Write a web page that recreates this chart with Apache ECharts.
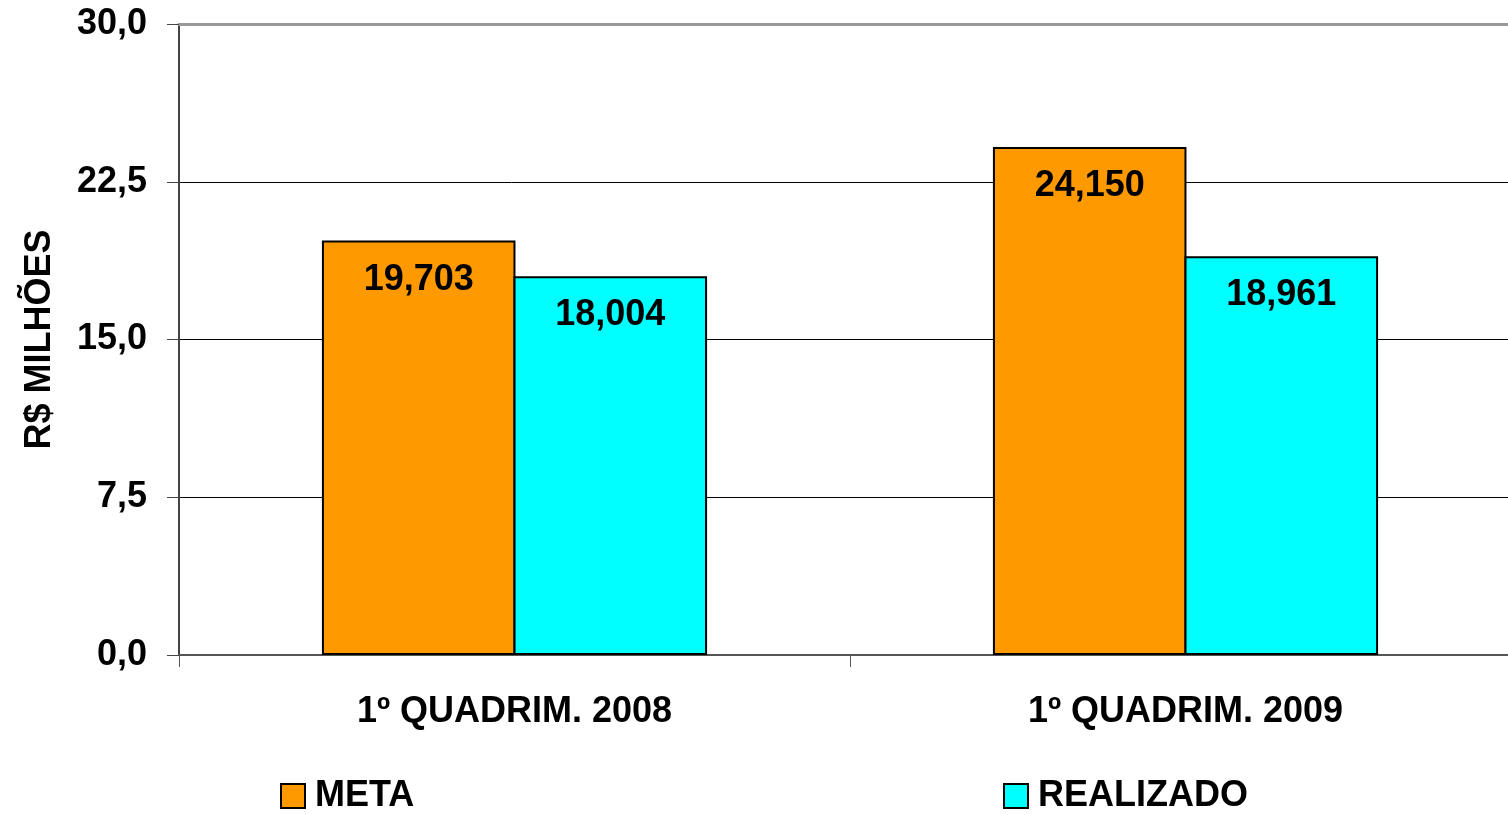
<!DOCTYPE html>
<html>
<head>
<meta charset="utf-8">
<script src="https://cdn.jsdelivr.net/npm/echarts@6/dist/echarts.min.js"></script>
<style>
  html, body { margin: 0; padding: 0; background: #fff; }
  #chart { width: 1508px; height: 815px; }
</style>
</head>
<body>
<div id="chart"></div>
<script>
const categories = ['1º QUADRIM. 2008', '1º QUADRIM. 2009']
const metaValues = [19.703, 24.150]
const realizadoValues = [18.004, 18.961]
const yTicks = [0, 7.5, 15, 22.5, 30]

const font = 'Liberation Sans, Arial, sans-serif'
const fmt = (v, d) => v.toFixed(d).replace('.', ',')

const chart = echarts.init(document.getElementById('chart'))

// rótulo dentro da barra, no topo
const barLabel = {
  show: true,
  position: 'insideTop',
  distance: 21,
  formatter: (p) => fmt(p.value, 3),
  color: '#000',
  fontFamily: font,
  fontSize: 36,
  fontWeight: 'bold',
}

const legendText = { fontSize: 36, fontWeight: 'bold', color: '#000', padding: [0, 0, 0, 5] }

chart.setOption({
  animation: false,
  textStyle: { fontFamily: font },
  // a área do gráfico passa um pouco da borda direita
  grid: { left: 179, top: 24, bottom: 160, width: 1342, outerBoundsMode: 'none', containLabel: false },
  legend: [
    {
      data: ['META'],
      left: 275,
      top: 773,
      icon: 'rect',
      itemWidth: 24,
      itemHeight: 24,
      textStyle: legendText,
    },
    {
      data: ['REALIZADO'],
      left: 998,
      top: 773,
      icon: 'rect',
      itemWidth: 24,
      itemHeight: 24,
      textStyle: legendText,
    },
  ],
  xAxis: [
    {
      type: 'category',
      data: categories,
      axisLine: { lineStyle: { color: '#555', width: 2 } },
      axisTick: { show: true, length: 12, lineStyle: { color: '#555' } },
      axisLabel: { fontSize: 36, fontWeight: 'bold', color: '#000', margin: 39 },
    },
    {
      type: 'category',
      position: 'top',
      data: categories,
      axisLine: { lineStyle: { color: '#999', width: 3 } },
      axisTick: { show: false },
      axisLabel: { show: false },
    },
  ],
  yAxis: {
    type: 'value',
    min: yTicks[0],
    max: yTicks[yTicks.length - 1],
    interval: 7.5,
    name: 'R$ MILHÕES',
    nameLocation: 'middle',
    nameGap: 121,
    nameRotate: 90,
    nameTextStyle: { fontSize: 36, fontWeight: 'bold', color: '#000' },
    axisLine: { show: true, lineStyle: { color: '#444', width: 2 } },
    axisTick: { show: true, length: 12, lineStyle: { color: '#444' } },
    axisLabel: {
      fontSize: 36,
      fontWeight: 'bold',
      color: '#000',
      margin: 32,
      formatter: (v) => fmt(v, 1),
    },
    splitLine: { lineStyle: { color: '#000', width: 1 } },
  },
  series: [
    {
      name: 'META',
      type: 'bar',
      data: metaValues,
      barGap: '-1%',
      barCategoryGap: '42.6%',
      itemStyle: { color: '#FF9900', borderColor: '#000', borderWidth: 2 },
      label: barLabel,
    },
    {
      name: 'REALIZADO',
      type: 'bar',
      data: realizadoValues,
      itemStyle: { color: '#00FFFF', borderColor: '#000', borderWidth: 2 },
      label: barLabel,
    },
  ],
})
</script>
</body>
</html>
